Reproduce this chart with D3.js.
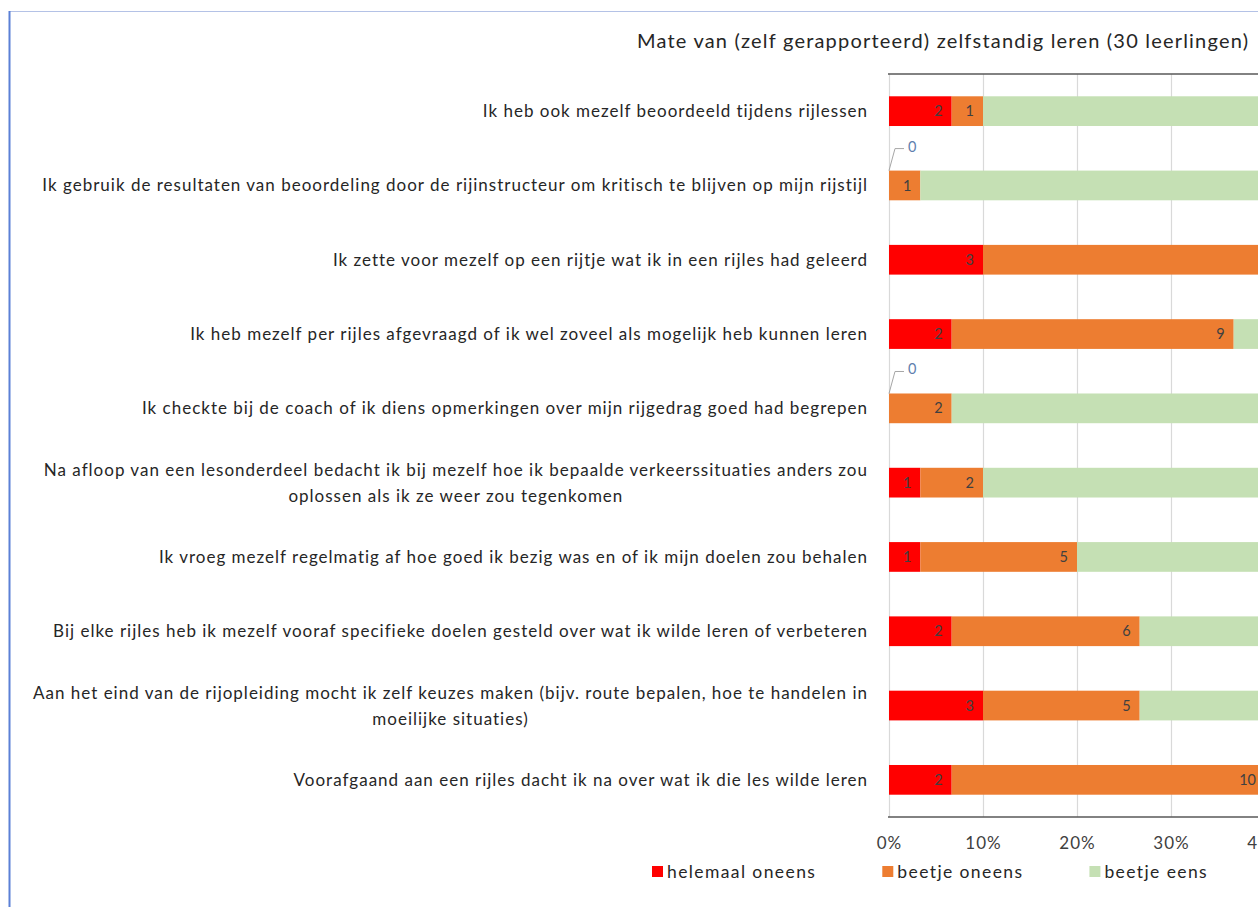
<!DOCTYPE html>
<html>
<head>
<meta charset="utf-8">
<script src="https://cdn.jsdelivr.net/npm/d3@7"></script>
<style>
  html, body { margin: 0; padding: 0; background: #fff; overflow: hidden; }
  svg { display: block; }
  text { font-family: Lato, "Noto Sans", sans-serif; }
</style>
</head>
<body>
<svg id="chart" width="1258" height="907"></svg>
<script>
// ---- data ----
const title = "Mate van (zelf gerapporteerd) zelfstandig leren (30 leerlingen)";
const totalStudents = 30;
const categories = [
  "Ik heb ook mezelf beoordeeld tijdens rijlessen",
  "Ik gebruik de resultaten van beoordeling door de rijinstructeur om kritisch te blijven op mijn rijstijl",
  "Ik zette voor mezelf op een rijtje wat ik in een rijles had geleerd",
  "Ik heb mezelf per rijles afgevraagd of ik wel zoveel als mogelijk heb kunnen leren",
  "Ik checkte bij de coach of ik diens opmerkingen over mijn rijgedrag goed had begrepen",
  "Na afloop van een lesonderdeel bedacht ik bij mezelf hoe ik bepaalde verkeerssituaties anders zou\noplossen als ik ze weer zou tegenkomen",
  "Ik vroeg mezelf regelmatig af hoe goed ik bezig was en of ik mijn doelen zou behalen",
  "Bij elke rijles heb ik mezelf vooraf specifieke doelen gesteld over wat ik wilde leren of verbeteren",
  "Aan het eind van de rijopleiding mocht ik zelf keuzes maken (bijv. route bepalen, hoe te handelen in\nmoeilijke situaties)",
  "Voorafgaand aan een rijles dacht ik na over wat ik die les wilde leren"
];
const seriesNames = ["helemaal oneens", "beetje oneens", "beetje eens", "helemaal eens"];
const helemaalOneens = [2, 0, 3, 2, 0, 1, 1, 2, 3, 2];
const beetjeOneens   = [1, 1, 13, 9, 2, 2, 5, 6, 5, 10];
const beetjeEens     = [17, 19, 11, 14, 18, 17, 16, 15, 14, 13];
const helemaalEens   = [10, 10, 3, 5, 10, 10, 8, 7, 8, 5];
const seriesColors = ["#ff0000", "#ed7d31", "#c5e0b4", "#70ad47"];
const tickValues = [0, 0.1, 0.2, 0.3, 0.4, 0.5, 0.6, 0.7, 0.8, 0.9, 1.0];

// ---- layout ----
const svg = d3.select("#chart");
const plot = { left: 889, right: 1829, top: 74, bottom: 817 };
const labelFont = 17, labelSpacing = "1.0px";

const x = d3.scaleLinear().domain([0, 1]).range([plot.left, plot.right]);
const y = d3.scaleBand().domain(d3.range(categories.length))
  .range([plot.top, plot.bottom]).paddingInner(0.6).paddingOuter(0.3);

const seriesData = [helemaalOneens, beetjeOneens, beetjeEens, helemaalEens];
const rows = categories.map((c, i) => {
  const r = { i };
  seriesNames.forEach((s, k) => r[s] = seriesData[k][i] / totalStudents);
  return r;
});
const stacked = d3.stack().keys(seriesNames)(rows);

// frame (selection border seen in reference)
svg.append("line").attr("x1", 10).attr("x2", 1258).attr("y1", 11.5).attr("y2", 11.5)
  .attr("stroke", "#b4c2e6").attr("stroke-width", 1);
svg.append("line").attr("x1", 9.5).attr("x2", 9.5).attr("y1", 11).attr("y2", 907)
  .attr("stroke", "#5b80d6").attr("stroke-width", 2);

// title
svg.append("text").attr("x", 637).attr("y", 48).attr("text-anchor", "start")
  .attr("font-size", 20).style("letter-spacing", "1.2px").attr("fill", "#262626").text(title);

// gridlines + tick labels
const xAxisG = svg.append("g").attr("transform", `translate(0,${plot.bottom})`)
  .call(d3.axisBottom(x).tickValues(tickValues).tickFormat(d3.format(".0%"))
    .tickSize(-(plot.bottom - plot.top)).tickPadding(20));
xAxisG.select(".domain").remove();
xAxisG.selectAll(".tick line").attr("stroke", "#d9d9d9").attr("stroke-width", 1.2);
xAxisG.selectAll(".tick text").attr("font-size", 17).attr("fill", "#404040")
  .style("letter-spacing", "1px")
  .style("font-family", "Lato, 'Noto Sans', sans-serif");

// top and bottom axis lines
[plot.top, plot.bottom].forEach(yy => {
  svg.append("line").attr("x1", plot.left - 1).attr("x2", plot.right)
    .attr("y1", yy).attr("y2", yy).attr("stroke", "#595959").attr("stroke-width", 1.5);
});

// bars
const layers = svg.append("g").selectAll("g").data(stacked).join("g")
  .attr("fill", (d, k) => seriesColors[k]);
layers.selectAll("rect").data(d => d).join("rect")
  .attr("x", d => x(d[0]))
  .attr("y", (d, i) => y(i))
  .attr("width", d => x(d[1]) - x(d[0]))
  .attr("height", y.bandwidth());

// data labels (inside end)
stacked.forEach((layer, k) => {
  layer.forEach((d, i) => {
    const v = seriesData[k][i];
    const cy = y(i) + y.bandwidth() / 2;
    if (v === 0) {
      const x0 = x(d[0]);
      const top = y(i);
      svg.append("path")
        .attr("d", `M${x0},${top} L${x0 + 6},${top - 22} L${x0 + 15},${top - 22}`)
        .attr("fill", "none").attr("stroke", "#a6a6a6").attr("stroke-width", 1);
      svg.append("text").attr("x", x0 + 19).attr("y", top - 19)
        .attr("font-size", 14.5).attr("fill", "#5f7fae").text(v);
    } else {
      svg.append("text").attr("x", x(d[1]) - 9).attr("y", cy)
        .attr("dy", "0.35em").attr("text-anchor", "end")
        .attr("font-size", 14.5).attr("fill", "#404040").text(v);
    }
  });
});

// category labels
const catG = svg.append("g");
categories.forEach((c, i) => {
  const lines = c.split("\n");
  const cy = y(i) + y.bandwidth() / 2;
  const lh = 26;
  const t = catG.append("text").attr("font-size", labelFont)
    .style("letter-spacing", labelSpacing).attr("fill", "#262626");
  if (lines.length === 1) {
    t.attr("x", 868).attr("y", cy).attr("dy", "0.35em").attr("text-anchor", "end").text(c);
  } else {
    const tmp = catG.append("text").attr("font-size", labelFont)
      .style("letter-spacing", labelSpacing).text(lines[0]);
    const w = tmp.node().getComputedTextLength();
    tmp.remove();
    const cx = 868 - w / 2;
    t.attr("text-anchor", "middle");
    lines.forEach((ln, j) => {
      t.append("tspan").attr("x", cx)
        .attr("y", cy + (j - (lines.length - 1) / 2) * lh)
        .attr("dy", "0.35em").text(ln);
    });
  }
});

// legend (items flow left to right: swatch + text + gap)
const legend = svg.append("g").attr("transform", "translate(652,866)");
let lx = 0;
seriesNames.forEach((name, k) => {
  const g = legend.append("g").attr("transform", `translate(${lx},0)`);
  g.append("rect").attr("width", 11).attr("height", 11).attr("fill", seriesColors[k]);
  const t = g.append("text").attr("x", 15).attr("y", 6).attr("dy", "0.35em")
    .attr("font-size", 17.5).style("letter-spacing", "1.4px")
    .attr("fill", "#262626").text(name);
  lx += 15 + t.node().getComputedTextLength() + 66;
});
</script>
</body>
</html>
